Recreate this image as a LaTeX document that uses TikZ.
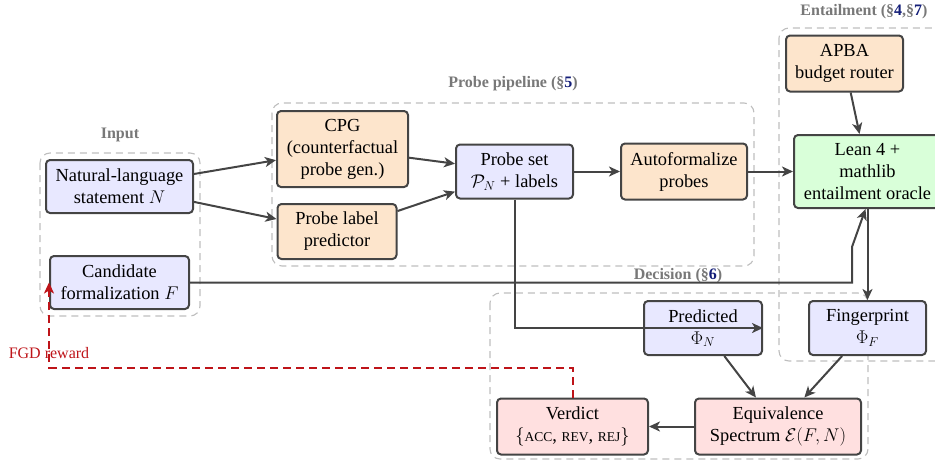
\RequirePackage{fix-cm}
\documentclass[tikz,border=0pt]{standalone}
\usepackage{fontspec}
\setmainfont{Liberation Serif}
\usetikzlibrary{arrows.meta}
\definecolor{bluefill}{RGB}{232,232,255}
\definecolor{orangefill}{RGB}{253,229,204}
\definecolor{greenfill}{RGB}{217,255,217}
\definecolor{redfill}{RGB}{255,224,224}
\definecolor{bordercol}{RGB}{68,68,68}
\definecolor{grpcol}{RGB}{190,190,190}
\definecolor{labcol}{RGB}{120,120,120}
\definecolor{secblue}{RGB}{20,30,120}
\definecolor{fgdred}{RGB}{190,20,25}
\newcommand{\fsc}[1]{{\fontsize{13.5}{16}\selectfont #1}}
\begin{document}
\begin{tikzpicture}[x=1pt,y=-1pt,
  box/.style={draw=bordercol, line width=2pt, rounded corners=4pt, align=center, inner sep=0pt, font=\fontsize{18.4}{22}\selectfont},
  grp/.style={draw=grpcol, dash pattern=on 7pt off 5pt, line width=1.1pt, rounded corners=10pt},
  glabel/.style={text=labcol, font=\bfseries\fontsize{16}{19}\selectfont},
  arr/.style={draw=bordercol, line width=2pt, -{Stealth[length=11pt,width=10pt,inset=3pt]}},
  fgd/.style={draw=fgdred, line width=2pt, dash pattern=on 8pt off 5pt, -{Stealth[length=11pt,width=10pt,inset=3pt]}},
]
\useasboundingbox (0,0) rectangle (935,461);
% groups
\draw[grp] (40,153) rectangle (200,316);
\draw[grp] (272,103) rectangle (754,266);
\draw[grp] (779,28) rectangle (960,361);
\draw[grp] (490,293) rectangle (868,459);
\node[glabel] (lin) at (120,135) {Input};
\node[glabel] (lpp) at (513,84) {Probe pipeline (§\textcolor{secblue}{5})};
\node[glabel] (lent) at (864,12) {Entailment (§\textcolor{secblue}{4},§\textcolor{secblue}{7})};
\node[glabel] (ldec) at (678,276) {Decision (§\textcolor{secblue}{6})};
% nodes
\node[box, fill=bluefill, minimum width=147pt, minimum height=53pt] (N) at (119.5,186.5) {Natural-language\\statement $N$};
\node[box, fill=bluefill, minimum width=139pt, minimum height=53pt] (F) at (119.5,282.5) {Candidate\\formalization $F$};
\node[box, fill=orangefill, minimum width=131pt, minimum height=76pt] (cpg) at (342.5,149) {CPG\\(counterfactual\\probe gen.)};
\node[box, fill=orangefill, minimum width=119pt, minimum height=55pt] (plp) at (337,231.5) {Probe label\\predictor};
\node[box, fill=bluefill, minimum width=117pt, minimum height=54pt] (ps) at (514.5,171.5) {Probe set\\$\mathcal{P}_N$ + labels};
\node[box, fill=orangefill, minimum width=126pt, minimum height=56pt] (af) at (684,171.5) {Autoformalize\\probes};
\node[box, fill=orangefill, minimum width=117pt, minimum height=56pt] (apba) at (844.5,63.5) {APBA\\budget router};
\node[box, fill=greenfill, minimum width=147pt, minimum height=73pt] (lean) at (867.5,171.5) {Lean 4 +\\mathlib\\entailment oracle};
\node[box, fill=bluefill, minimum width=118pt, minimum height=54pt] (pred) at (703,328) {Predicted\\$\Phi_N$};
\node[box, fill=bluefill, minimum width=117pt, minimum height=54pt] (fp) at (867.5,328) {Fingerprint\\$\Phi_F$};
\node[box, fill=redfill, minimum width=166pt, minimum height=56pt] (eq) at (778,426.5) {Equivalence\\Spectrum $\mathcal{E}(F,N)$};
\node[box, fill=redfill, minimum width=151pt, minimum height=56pt] (ver) at (572.5,426.5) {Verdict\\$\{$\fsc{ACC}, \fsc{REV}, \fsc{REJ}$\}$};
% connectors
\draw[arr] (N) -- (cpg);
\draw[arr] (N) -- (plp);
\draw[arr] (cpg) -- (ps);
\draw[arr] (plp) -- (ps);
\draw[arr] (ps) -- (af);
\draw[arr] (af) -- (lean);
\draw[arr] (apba) -- (lean);
\coordinate (k1) at (852,282.5);
\coordinate (k2) at (852,247);
\draw[arr] (F.east) -- (k1) -- (k2) -- ([xshift=-2pt]lean.south);
\draw[arr] (lean.south) -- (fp.north);
\draw[arr] (ps.south) |- (pred.east);
\draw[arr] (pred) -- (eq);
\draw[arr] (fp) -- (eq);
\draw[arr] (eq) -- (ver);
\draw[fgd] (ver.north) -- ++(0,-30) -| (F.west);
\node[text=fgdred, font=\fontsize{16}{19}\selectfont] (fgdl) at (49,353) {FGD reward};
\end{tikzpicture}
\end{document}
